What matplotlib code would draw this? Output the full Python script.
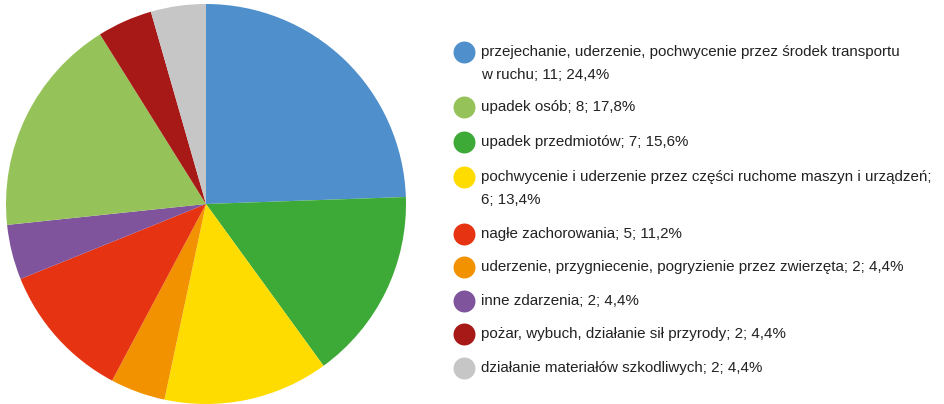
import matplotlib
matplotlib.use("Agg")
import matplotlib.pyplot as plt
from matplotlib import font_manager

# legend order
categories = [
    "przejechanie, uderzenie, pochwycenie przez środek transportu\nw ruchu",
    "upadek osób",
    "upadek przedmiotów",
    "pochwycenie i uderzenie przez części ruchome maszyn i urządzeń;\n",
    "nagłe zachorowania",
    "uderzenie, przygniecenie, pogryzienie przez zwierzęta",
    "inne zdarzenia",
    "pożar, wybuch, działanie sił przyrody",
    "działanie materiałów szkodliwych",
]
counts = [11, 8, 7, 6, 5, 2, 2, 2, 2]
percents = ["24,4", "17,8", "15,6", "13,4", "11,2", "4,4", "4,4", "4,4", "4,4"]
colors = ["#4f8fcc", "#95c359", "#3daa37", "#ffdc00", "#e63312",
          "#f29200", "#7f549c", "#a61916", "#c6c6c6"]
# order of slices clockwise from 12 o'clock
pie_order = [0, 2, 3, 5, 4, 6, 1, 7, 8]

names = {f.name for f in font_manager.fontManager.ttflist}
family = "Liberation Sans Narrow" if "Liberation Sans Narrow" in names else "Liberation Sans"

W, H = 944, 404
fig = plt.figure(figsize=(W / 100, H / 100), dpi=100)

ax = fig.add_axes([6 / W, 0 / H, 400 / W, 400 / H])
ax.pie([counts[i] for i in pie_order], colors=[colors[i] for i in pie_order],
       startangle=90, counterclock=False, radius=1,
       wedgeprops=dict(linewidth=0))
ax.set_xlim(-1, 1)
ax.set_ylim(-1, 1)
ax.set_aspect("equal")
ax.axis("off")

# legend drawn in pixel coordinates
lg = fig.add_axes([0, 0, 1, 1])
lg.set_xlim(0, W)
lg.set_ylim(H, 0)
lg.axis("off")

row_y = [52, 107, 142, 177, 234, 267, 301, 334, 368]
for i, (name, n, p, c) in enumerate(zip(categories, counts, percents, colors)):
    y = row_y[i]
    lg.scatter([464], [y], s=250, color=c, linewidths=0)
    lines = name.split("\n")
    if i == 3:
        lines = [lines[0], f"{n}; {p}%"]
    elif len(lines) > 1:
        lines[-1] = f"{lines[-1]}; {n}; {p}%"
    else:
        lines[0] = f"{lines[0]}; {n}; {p}%"
    for k, ln in enumerate(lines):
        lg.text(481, y + k * 23, ln, fontsize=10.9, family=family,
                color="#222222", va="center", ha="left")

fig.savefig("out.png", dpi=100)
